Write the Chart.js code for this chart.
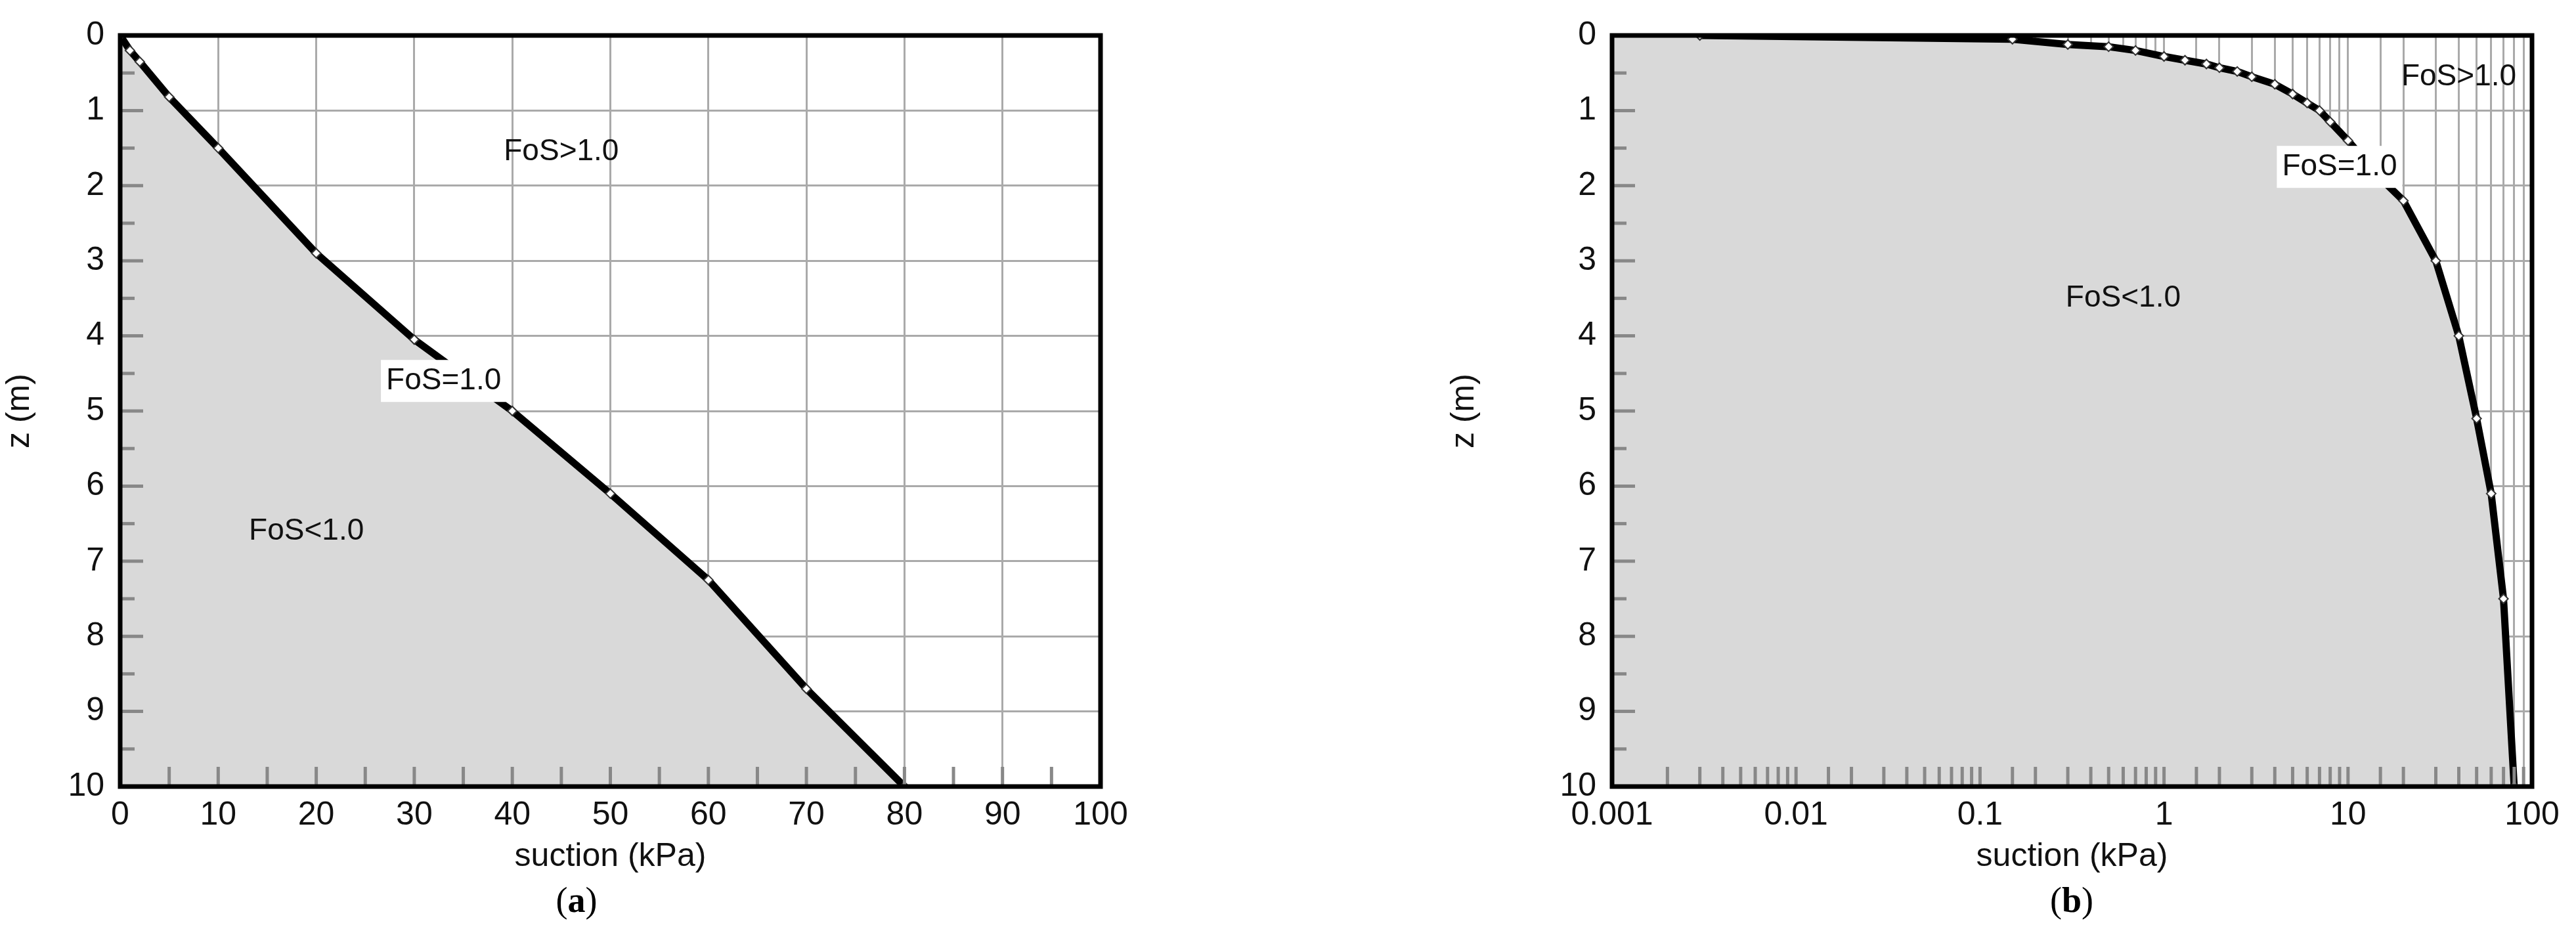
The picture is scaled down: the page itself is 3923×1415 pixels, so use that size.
<!DOCTYPE html>
<html><head><meta charset="utf-8">
<script src="https://cdn.jsdelivr.net/npm/chart.js@4"></script>
<style>
body{margin:0;background:#fff;width:3923px;height:1415px;position:relative;overflow:hidden;font-family:Arial,"Liberation Sans",sans-serif}
.c{position:absolute;top:0}
.cap{position:absolute;top:1340px;font-size:54px;font-family:"Liberation Serif","DejaVu Serif",serif;transform:translateX(-50%)}
</style></head><body>
<div class="c" style="left:0;width:1760px;height:1335px"><canvas id="a"></canvas></div>
<div class="c" style="left:2200px;width:1723px;height:1335px"><canvas id="b"></canvas></div>
<div class="cap" style="left:878px">(<b>a</b>)</div>
<div class="cap" style="left:3155px">(<b>b</b>)</div>
<script>
// Panel (a): linear suction axis
const suctionA = [0, 1, 2, 5, 10, 20, 30, 40, 50, 60, 70, 80];
const depthA   = [0, 0.2, 0.35, 0.82, 1.5, 2.9, 4.05, 5.0, 6.1, 7.25, 8.7, 10];
// Panel (b): log suction axis
const suctionB = [0.003, 0.15, 0.3, 0.5, 0.7, 1, 1.3, 1.7, 2, 2.5, 3, 4, 5, 6, 7, 8, 10, 15, 20, 30, 40, 50, 60, 70, 80];
const depthB   = [0, 0.05, 0.12, 0.15, 0.2, 0.28, 0.33, 0.38, 0.43, 0.48, 0.55, 0.65, 0.78, 0.9, 1.0, 1.15, 1.4, 1.9, 2.2, 3.0, 4.0, 5.1, 6.1, 7.5, 10];
const depthTicks = [0,1,2,3,4,5,6,7,8,9,10];
const labelsA = [{t:'FoS>1.0',x:45,y:1.55,bg:false},{t:'FoS=1.0',x:33,y:4.6,bg:true},{t:'FoS<1.0',x:19,y:6.6,bg:false}];
const labelsB = [{t:'FoS>1.0',x:40,y:0.55,bg:false},{t:'FoS=1.0',x:9,y:1.75,bg:true},{t:'FoS<1.0',x:0.6,y:3.5,bg:false}];

const FONT = {family:'Arial, "Liberation Sans", sans-serif', size:50};
const pts = (xs,ys)=>xs.map((x,i)=>({x,y:ys[i]}));

function decor(labels, log){
  return {id:'decor',
    afterDraw(ch){
      const c=ch.ctx, xs=ch.scales.x, ys=ch.scales.y, a=ch.chartArea;
      c.save();
      c.strokeStyle='#888'; c.lineWidth=5;
      for(let v=0.5; v<10; v+=0.5){
        const py=ys.getPixelForValue(v); c.beginPath(); c.moveTo(a.left,py); c.lineTo(a.left+(v%1?22:35),py); c.stroke();
      }
      const xt = log ? xs.ticks.map(t=>t.value) : [5,10,15,20,25,30,35,40,45,50,55,60,65,70,75,80,85,90,95];
      xt.forEach(v=>{const px=xs.getPixelForValue(v); if(px<=a.left+1||px>=a.right-1) return;
        c.beginPath(); c.moveTo(px,a.bottom); c.lineTo(px,a.bottom-30); c.stroke();});
      c.strokeStyle='#000'; c.lineWidth=7; c.strokeRect(a.left,a.top,a.right-a.left,a.bottom-a.top);
      c.font='46px Arial, "Liberation Sans", sans-serif'; c.textAlign='center'; c.textBaseline='middle';
      labels.forEach(l=>{
        const px=xs.getPixelForValue(l.x), py=ys.getPixelForValue(l.y);
        if(l.bg){const w=c.measureText(l.t).width; c.fillStyle='#fff'; c.fillRect(px-w/2-8,py-32,w+16,64);}
        c.fillStyle='#111'; c.fillText(l.t,px,py);
      });
      c.restore();
    }};
}

function make(id, xs, ys, log, padR, yw, labels){
  const fillData = log ? [{x:0.001,y:0}].concat(pts(xs,ys)) : pts(xs,ys);
  new Chart(document.getElementById(id),{
    type:'line',
    data:{datasets:[
      {data:fillData, fill:'start', backgroundColor:'#d9d9d9', borderWidth:0, pointRadius:0, order:2},
      {data:pts(xs,ys), fill:false, borderColor:'#000', borderWidth:11, pointRadius:7, pointStyle:'rectRot',
       pointBackgroundColor:'#fff', pointBorderColor:'#333', pointBorderWidth:2, order:1}
    ]},
    options:{responsive:true, maintainAspectRatio:false, animation:false, devicePixelRatio:1,
      layout:{padding:{top:38,right:padR,left:0,bottom:0}},
      plugins:{legend:{display:false},tooltip:{enabled:false}},
      scales:{
        x: log ? {type:'logarithmic', min:0.001, max:100,
              grid:{color:'#aaa',lineWidth:3,drawTicks:false},
              border:{display:false},
              ticks:{color:'#111',font:FONT,padding:14,maxRotation:0,autoSkip:false,
                callback:(v)=>{const l=Math.log10(v); return Math.abs(l-Math.round(l))<1e-9 ? String(+v.toPrecision(1)) : '';}},
              title:{display:true,text:'suction (kPa)',color:'#111',font:FONT,padding:0},
              afterFit:s=>{s.height=137;}}
          : {type:'linear', min:0, max:100,
              grid:{color:'#aaa',lineWidth:3,drawTicks:false}, border:{display:false},
              ticks:{stepSize:10,color:'#111',font:FONT,padding:14,maxRotation:0},
              title:{display:true,text:'suction (kPa)',color:'#111',font:FONT,padding:0},
              afterFit:s=>{s.height=137;}},
        y:{type:'linear', reverse:true, min:0, max:10,
           afterBuildTicks:s=>{s.ticks=depthTicks.map(v=>({value:v}));},
           grid:{color:'#aaa',lineWidth:3,drawTicks:false}, border:{display:false},
           ticks:{color:'#111',font:FONT,padding:24},
           title:{display:true,text:'z (m)',color:'#111',font:FONT,padding:0},
           afterFit:s=>{s.width=yw;}}
      }
    },
    plugins:[decor(labels, log)]
  });
}
make('a', suctionA, depthA, false, 84, 183, labelsA);
make('b', suctionB, depthB, true, 67, 255, labelsB);
</script></body></html>
